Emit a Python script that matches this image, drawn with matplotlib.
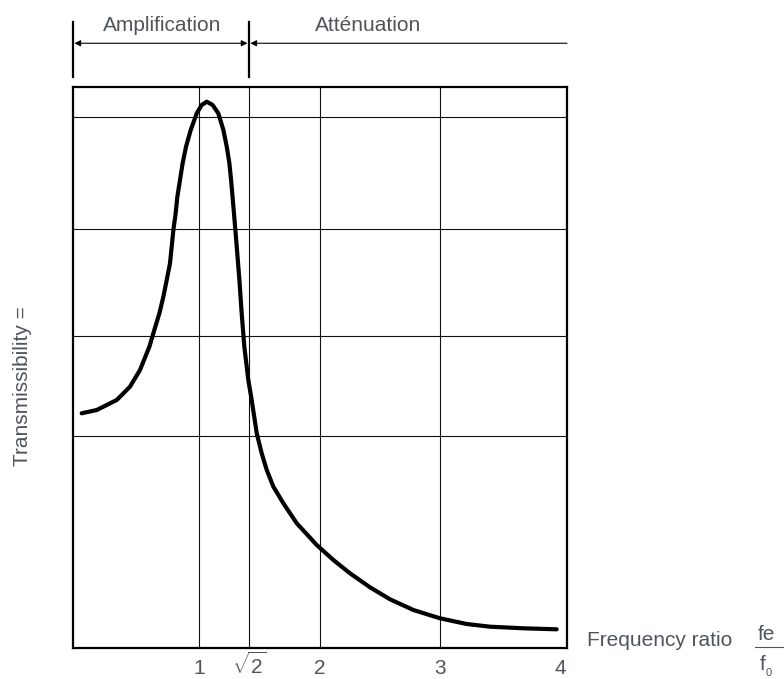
import matplotlib.pyplot as plt
from matplotlib.lines import Line2D
import numpy as np

plt.rcParams['font.family'] = ['Liberation Sans', 'DejaVu Sans']
plt.rcParams['mathtext.fontset'] = 'custom'
plt.rcParams['mathtext.rm'] = 'Liberation Sans'

TXT = '#50555b'

# courbe de transmissibilite (unites arbitraires en y)
ratio = [0.026, 0.151, 0.317, 0.427, 0.510, 0.588, 0.629, 0.671, 0.704, 0.732,
         0.759, 0.773, 0.787, 0.806, 0.820, 0.842, 0.864, 0.892, 0.931, 0.981,
         1.022, 1.064, 1.113, 1.160, 1.202, 1.230, 1.252, 1.266, 1.290, 1.313,
         1.335, 1.354, 1.376, 1.409, 1.437, 1.479, 1.520, 1.562, 1.617, 1.700,
         1.811, 1.977, 2.115, 2.253, 2.419, 2.585, 2.779, 3.0, 3.221, 3.415,
         3.692, 3.968]
transm = [2.347, 2.38, 2.48, 2.613, 2.78, 3.013, 3.18, 3.347, 3.513, 3.68,
          3.847, 4.013, 4.18, 4.347, 4.513, 4.68, 4.847, 5.013, 5.18, 5.347,
          5.43, 5.463, 5.43, 5.347, 5.18, 5.013, 4.847, 4.68, 4.347, 4.013,
          3.68, 3.347, 3.013, 2.68, 2.48, 2.147, 1.947, 1.78, 1.613, 1.447,
          1.247, 1.03, 0.88, 0.747, 0.607, 0.487, 0.38, 0.297, 0.24, 0.213,
          0.197, 0.187]

# grille
x_grid = [1, np.sqrt(2), 2, 3]
y_grid = [2.12, 3.12, 4.19, 5.31]
x_ticks = [1, np.sqrt(2), 2, 3, 4]
x_ticklabels = ['1', r'$\sqrt{2}$', '2', '3', '4']

fig = plt.figure(figsize=(7.84, 6.79), dpi=100)
ax = fig.add_axes([73/784, 1-648/679, (567-73)/784, (648-87)/679])

for xg in x_grid:
    ax.axvline(xg, color='#111111', lw=0.8, zorder=1)
for yg in y_grid:
    ax.axhline(yg, color='#111111', lw=0.8, zorder=1)

ax.plot(ratio, transm, color='black', lw=3.0, solid_capstyle='round',
        solid_joinstyle='round', zorder=3)

ax.set_xlim(-0.046, 4.054)
ax.set_ylim(0, 5.61)
ax.set_xticks(x_ticks)
ax.set_xticklabels(x_ticklabels)
ax.set_yticks([])
ax.tick_params(axis='x', length=0, pad=19, labelsize=15, labelcolor=TXT)
for lbl in ax.get_xticklabels():
    lbl.set_va('baseline')
for s in ax.spines.values():
    s.set_linewidth(1.6)

# zones amplification / attenuation au dessus du graphe
tr = ax.get_xaxis_transform()
x0 = -0.046
xs = np.sqrt(2)
for xb in [x0, xs]:
    ax.add_line(Line2D([xb, xb], [1.018, 1.116], transform=tr, color='black',
                       lw=1.6, clip_on=False))
ax.annotate('', xy=(x0, 1.078), xytext=(xs, 1.078), xycoords=tr, textcoords=tr,
            arrowprops=dict(arrowstyle='<|-|>', color='black', lw=0.8,
                            mutation_scale=9, shrinkA=1, shrinkB=1))
ax.annotate('', xy=(xs, 1.078), xytext=(4.054, 1.078), xycoords=tr, textcoords=tr,
            arrowprops=dict(arrowstyle='-|>', color='black', lw=0.8,
                            mutation_scale=9, shrinkA=0, shrinkB=1))
ax.text(0.69, 1.11, 'Amplification', transform=tr, ha='center',
        va='center', fontsize=15, color=TXT)
ax.text(2.4, 1.11, 'Atténuation', transform=tr, ha='center', va='center',
        fontsize=15, color=TXT)

# labels des axes
fig.text(23/784, 1-386/679, 'Transmissibility =', rotation=90, ha='center',
         va='center', fontsize=15, color=TXT)
fig.text(587/784, 1-641/679, 'Frequency ratio', ha='left', va='center',
         fontsize=15, color=TXT)
fig.text(766/784, 1-634/679, 'fe', ha='center', va='center', fontsize=15, color=TXT)
fig.add_artist(Line2D([755/784, 784/784], [1-647/679, 1-647/679], color=TXT, lw=0.8))
fig.text(763/784, 1-664/679, 'f', ha='center', va='center', fontsize=15, color=TXT)
fig.text(769/784, 1-673/679, '0', ha='center', va='center', fontsize=8, color=TXT)

plt.savefig('out.png', dpi=100)
